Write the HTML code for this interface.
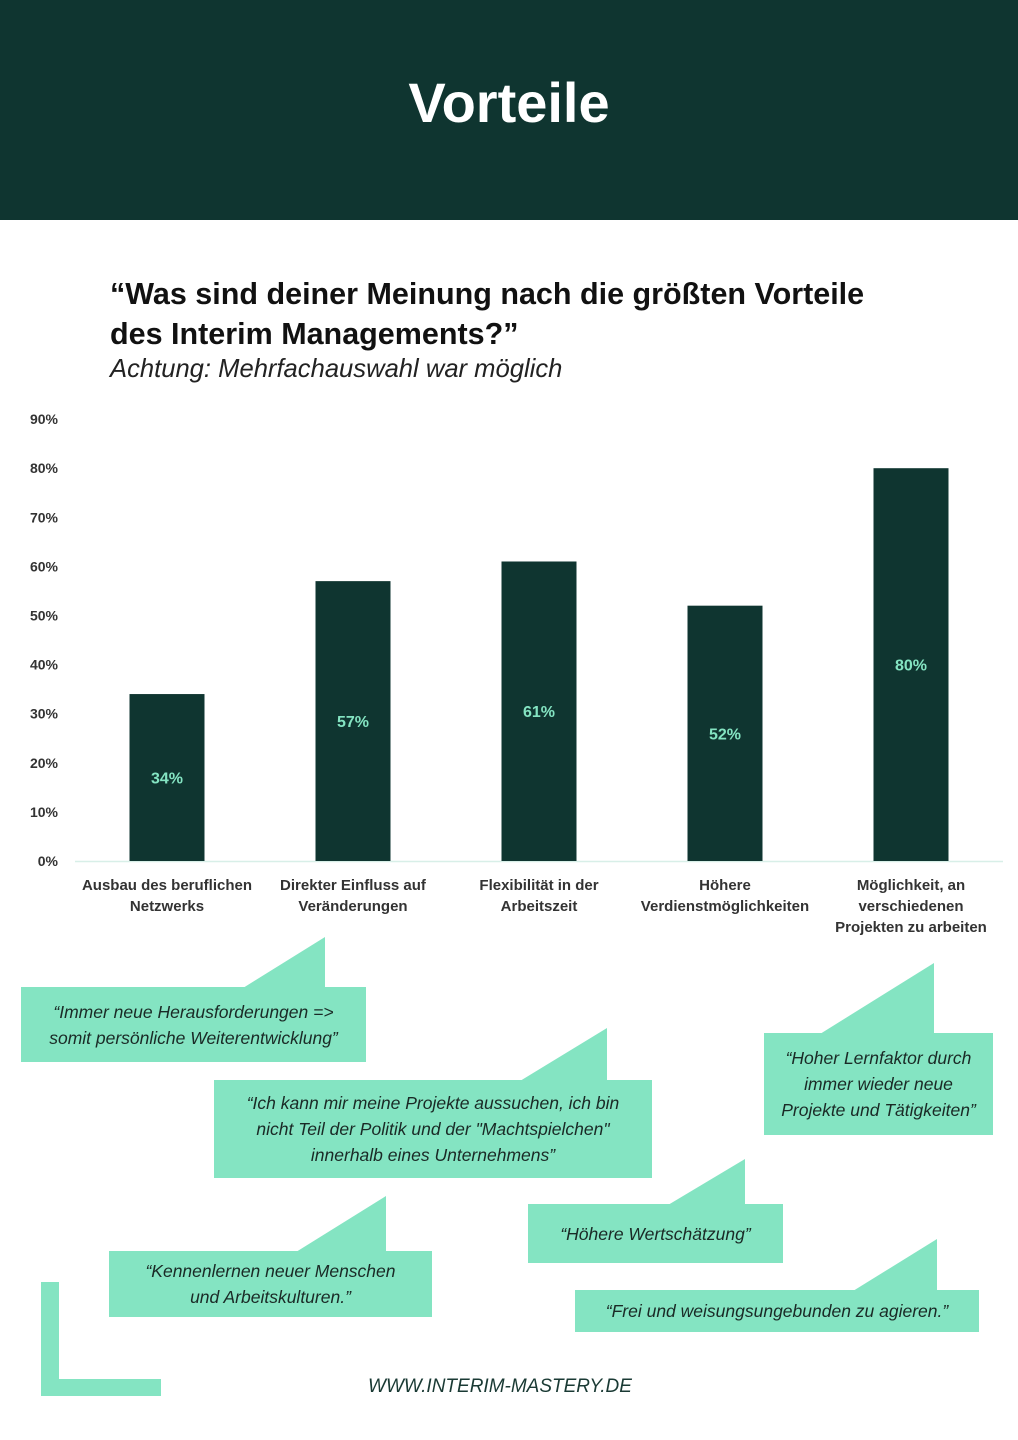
<!DOCTYPE html>
<html><head><meta charset="utf-8"><style>
body{margin:0;width:1018px;height:1440px;background:#fff;position:relative;overflow:hidden;font-family:"Liberation Sans",sans-serif;color:#111}
.abs{position:absolute}
.hdr{left:0;top:0;width:1018px;height:220px;background:#0f3530}
.hdr h1{margin:0;position:absolute;top:70px;width:100%;text-align:center;color:#fff;font-size:56px;font-weight:bold}
.q{left:110px;top:274px;font-size:30.5px;font-weight:bold;line-height:40px;color:#111;white-space:nowrap}
.sub{left:110px;top:355px;font-size:25.6px;font-style:italic;color:#222;white-space:nowrap}
.bt{font-style:italic;font-size:17.5px;color:#1a2a26;text-align:center;line-height:26px;display:flex;align-items:center;justify-content:center}
.footer{left:0;width:1000px;top:1376px;text-align:center;font-size:19px;font-style:italic;color:#1a3a34}
</style></head><body>
<div class="abs hdr"><h1>Vorteile</h1></div>
<div class="abs q">“Was sind deiner Meinung nach die größten Vorteile<br>des Interim Managements?”</div>
<div class="abs sub">Achtung: Mehrfachauswahl war möglich</div>
<svg class="abs" style="left:0;top:0" width="1018" height="1440" id="chart"></svg>
<div class="abs footer">WWW.INTERIM-MASTERY.DE</div>
<script>
const categories=[["Ausbau des beruflichen","Netzwerks"],["Direkter Einfluss auf","Veränderungen"],["Flexibilität in der","Arbeitszeit"],["Höhere","Verdienstmöglichkeiten"],["Möglichkeit, an","verschiedenen","Projekten zu arbeiten"]];
const values=[34,57,61,52,80];
const valueLabels=["34%","57%","61%","52%","80%"];
const ticks=[0,10,20,30,40,50,60,70,80,90];
const bubbles=[
 {text:"“Immer neue Herausforderungen =><br>somit persönliche Weiterentwicklung”",x:21,y:987,w:345,h:75,t1:243,t2:325,ty:937},
 {text:"“Ich kann mir meine Projekte aussuchen, ich bin<br>nicht Teil der Politik und der \"Machtspielchen\"<br>innerhalb eines Unternehmens”",x:214,y:1080,w:438,h:98,t1:520,t2:607,ty:1028},
 {text:"“Hoher Lernfaktor durch<br>immer wieder neue<br>Projekte und Tätigkeiten”",x:764,y:1033,w:229,h:102,t1:820,t2:934,ty:963},
 {text:"“Höhere Wertschätzung”",x:528,y:1204,w:255,h:59,t1:668,t2:745,ty:1159},
 {text:"“Kennenlernen neuer Menschen<br>und Arbeitskulturen.”",x:109,y:1251,w:323,h:66,t1:296,t2:386,ty:1196},
 {text:"“Frei und weisungsungebunden zu agieren.”",x:575,y:1290,w:404,h:42,t1:853,t2:937,ty:1239}
];
const svg=document.getElementById('chart');
const NS='http://www.w3.org/2000/svg';
const y0=861,pxPer=4.91;
const yS=v=>y0-v*pxPer;
const xS=i=>167+i*186;
function mk(tag,attrs){const e=document.createElementNS(NS,tag);for(const k in attrs)e.setAttribute(k,attrs[k]);svg.appendChild(e);return e;}
ticks.forEach(t=>{const e=mk('text',{x:58,y:yS(t)+5,'text-anchor':'end','font-size':14,'font-weight':'bold',fill:'#333','font-family':'Liberation Sans'});e.textContent=t+'%';

});
const ax=mk('line',{x1:75,x2:1003,y1:y0+0.5,y2:y0+0.5,stroke:'#d8efe8','stroke-width':1.5});


values.forEach((v,i)=>{
 const r=mk('rect',{x:xS(i)-37.5,y:yS(v),width:75,height:v*pxPer,fill:'#0f3530'});
 
 
 const l=mk('text',{x:xS(i),y:yS(v/2)+6,'text-anchor':'middle','font-size':16,'font-weight':'bold',fill:'#84e4c2','font-family':'Liberation Sans'});
 l.textContent=valueLabels[i];
 
 
 categories[i].forEach((s,j)=>{const c=mk('text',{x:xS(i),y:890+j*21,'text-anchor':'middle','font-size':15,'font-weight':'bold',fill:'#333','font-family':'Liberation Sans'});c.textContent=s;
 
 });
});
bubbles.forEach(b=>{
 const p=mk('polygon',{points:`${b.t1},${b.y+1} ${b.t2},${b.ty} ${b.t2},${b.y+1}`,fill:'#84e4c2'});
 
 
 const d=document.createElement('div');
 d.className='abs bt';
 d.style.cssText=`left:${b.x}px;top:${b.y}px;width:${b.w}px;height:${b.h}px;background:#84e4c2`;
 d.innerHTML=b.text;
 
 
 document.body.appendChild(d);
});
const c1=mk('rect',{x:41,y:1282,width:18,height:114,fill:'#84e4c2'});


const c2=mk('rect',{x:41,y:1379,width:120,height:17,fill:'#84e4c2'});


</script>
</body></html>
